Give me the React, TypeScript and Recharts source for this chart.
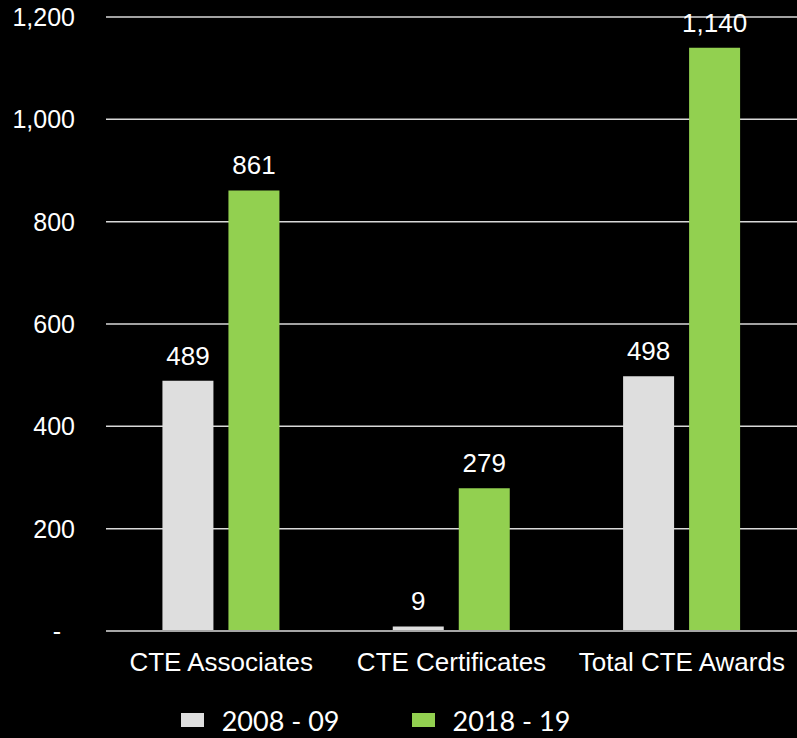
import React from 'react';
import { BarChart, Bar, XAxis, YAxis, CartesianGrid, Legend, LabelList } from 'recharts';

// categories and series values
const categories = ['CTE Associates', 'CTE Certificates', 'Total CTE Awards'];
const values2008 = [489, 9, 498];
const values2018 = [861, 279, 1140];
const yTicks = [0, 200, 400, 600, 800, 1000, 1200];

const seriesNames = ['2008 - 09', '2018 - 19'];
const GRAY = '#dedede';
const GREEN = '#92d050';
const FONT = '"Liberation Sans", Arial, sans-serif';

const data = categories.map((name, i) => ({
  name,
  y2008: values2008[i],
  y2018: values2018[i],
}));

const fmt = (v: number) => (v === 0 ? '-\u00a0\u00a0' : v.toLocaleString('en-US'));

const LegendContent = () => (
  <div style={{ display: 'flex', justifyContent: 'center', height: 50, alignItems: 'center', paddingRight: 46, paddingTop: 14, boxSizing: 'border-box' }}>
    {seriesNames.map((n, i) => (
      <div key={n} style={{ display: 'flex', alignItems: 'center', marginRight: i === 0 ? 72 : 0 }}>
        <span style={{ width: 23, height: 14, background: i === 0 ? GRAY : GREEN, display: 'inline-block', marginRight: 18 }} />
        <span style={{ color: '#fff', fontFamily: 'Lato, sans-serif', fontSize: 27 }}>{n}</span>
      </div>
    ))}
  </div>
);

export default function App() {
  return (
    <div style={{ position: 'absolute', left: 0, top: 0, width: 797, height: 738, background: '#000' }}>
      <BarChart
        width={797}
        height={738}
        data={data}
        margin={{ top: 17, right: 0, left: 0, bottom: 0 }}
        barCategoryGap="24.5%"
        barGap={15}
      >
        <CartesianGrid vertical={false} stroke="#d9d9d9" strokeWidth={1.5} />
        <XAxis
          dataKey="name"
          height={57}
          tickSize={0}
          tickMargin={22}
          axisLine={{ stroke: '#a6a6a6', strokeWidth: 2 }}
          tick={{ fill: '#fff', fontSize: 26, fontFamily: FONT }}
          interval={0}
        />
        <YAxis
          width={106}
          domain={[0, 1200]}
          ticks={yTicks}
          tickFormatter={fmt}
          axisLine={false}
          tickLine={false}
          tickSize={0}
          tickMargin={31}
          tick={{ fill: '#fff', fontSize: 25, fontFamily: FONT }}
        />
        <Legend verticalAlign="bottom" content={<LegendContent />} />
        <Bar dataKey="y2008" name={seriesNames[0]} fill={GRAY} isAnimationActive={false}>
          <LabelList dataKey="y2008" position="top" offset={16} formatter={(v: any) => v.toLocaleString('en-US')} fill="#fff" fontSize={26} fontFamily={FONT} />
        </Bar>
        <Bar dataKey="y2018" name={seriesNames[1]} fill={GREEN} isAnimationActive={false}>
          <LabelList dataKey="y2018" position="top" offset={16} formatter={(v: any) => v.toLocaleString('en-US')} fill="#fff" fontSize={26} fontFamily={FONT} />
        </Bar>
      </BarChart>
    </div>
  );
}
